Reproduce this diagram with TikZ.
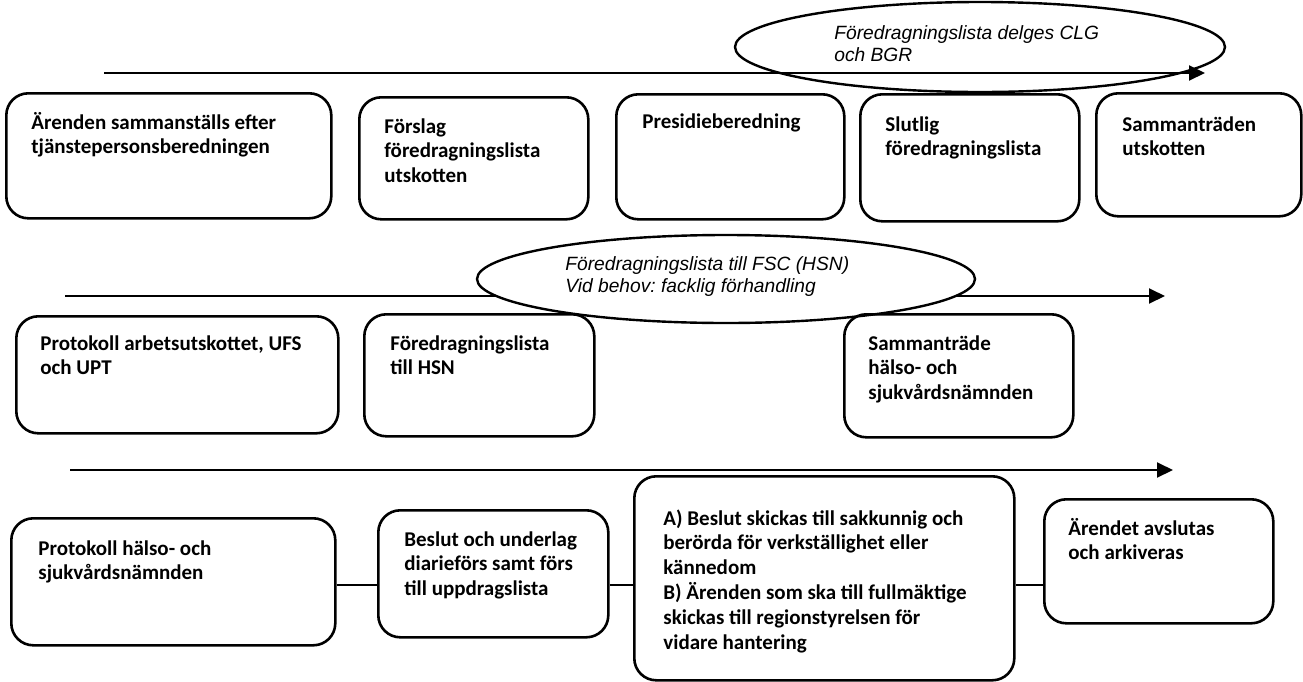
\documentclass[tikz,border=0pt]{standalone}
\usepackage{fontspec}
\setmainfont{Carlito}
\newfontfamily\notefont{Liberation Sans}
\usetikzlibrary{positioning,arrows.meta}
\usetikzlibrary{shapes.geometric}
\usetikzlibrary{calc}
\frenchspacing
\tikzset{
  fl_box/.style = {draw=black, line width=1.3pt, rounded corners=11pt,
    anchor=north west, inner sep=0pt},
  fl_txt/.style = {anchor=base west, align=left, inner sep=0pt,
    font=\fontsize{10.5}{12.4}\selectfont\bfseries},% text in a box, base = last line
  fl_oval/.style = {ellipse, draw=black, line width=1.2pt, inner sep=0pt},
  fl_note/.style = {anchor=base west, align=left, inner sep=0pt,
    font=\notefont\itshape\fontsize{9.6}{11}\selectfont},% text in an oval
  fl_line/.style = {->, line width=1pt},
  fl_link/.style = {line width=0.8pt}
}

\begin{document}
\begin{tikzpicture}[x=0.5pt,y=-0.5pt,>={Triangle[length=8pt,width=7.5pt]}]
\useasboundingbox (0,0) rectangle (1303,681);
%
% first row: utskotten
\coordinate (U0) at (104,73);
\coordinate (U1) at (1205,73);
\draw[fl_line] (U0) -- (U1);
\node (Uov) [fl_oval, minimum width=245pt, minimum height=45pt] at (980,47) {};
\node (Uovt) [fl_note] at ($(Uov.center)+(-146,14)$)
  {Föredragningslista delges CLG\\och BGR};
%
\node (A1) [fl_box, minimum width=162.5pt, minimum height=62.5pt] at (5,92) {};
\node (A2) [fl_box, minimum width=114.5pt, minimum height=61pt] at (358,96) {};
\node (A3) [fl_box, minimum width=114pt, minimum height=62.5pt] at (615,93) {};
\node (A4) [fl_box, minimum width=109.5pt, minimum height=63.5pt] at (859,93) {};
\node (A5) [fl_box, minimum width=102.5pt, minimum height=61.5pt] at (1095,92) {};
\node (A1t) [fl_txt] at ($(A1.north west)+(26,{37+24.8})$)
  {Ärenden sammanställs efter\\tjänstepersonsberedningen};
\node (A2t) [fl_txt] at ($(A2.north west)+(26,{37+2*24.8})$)
  {Förslag\\föredragningslista\\utskotten};
\node (A3t) [fl_txt] at ($(A3.north west)+(27,35)$) {Presidieberedning};
\node (A4t) [fl_txt] at ($(A4.north west)+(26,{38+24.8})$)
  {Slutlig\\föredragningslista};
\node (A5t) [fl_txt] at ($(A5.north west)+(27,{39+24.8})$)
  {Sammanträden\\utskotten};
%
% second row: nämnden
\coordinate (N0) at (65,296);
\coordinate (N1) at (1165,296);
\draw[fl_line] (N0) -- (N1);
\node (Nov) [fl_oval, fill=white, minimum width=249pt, minimum height=44pt] at (726,279) {};
\node (Novt) [fl_note] at ($(Nov.center)+(-161,13)$)
  {Föredragningslista till FSC (HSN)\\Vid behov: facklig förhandling};
%
\node (C1) [fl_box, minimum width=161pt, minimum height=58.5pt] at (15,315) {};
\node (C2) [fl_box, minimum width=115pt, minimum height=61pt] at (363,313) {};
\node (C3) [fl_box, minimum width=114.5pt, minimum height=61.5pt] at (843,313) {};
\node (C1t) [fl_txt] at ($(C1.north west)+(25,{35+24.8})$)
  {Protokoll arbetsutskottet, UFS\\och UPT};
\node (C2t) [fl_txt] at ($(C2.north west)+(27,{37+24.8})$)
  {Föredragningslista\\till HSN};
\node (C3t) [fl_txt] at ($(C3.north west)+(25,{37+2*24.8})$)
  {Sammanträde\\hälso- och\\sjukvårdsnämnden};
%
% third row: efter sammanträdet
\coordinate (E0) at (70,470);
\coordinate (E1) at (1173,470);
\draw[fl_line] (E0) -- (E1);
%
\node (B1) [fl_box, minimum width=162pt, minimum height=63.5pt] at (10,517) {};
\node (B2) [fl_box, minimum width=115pt, minimum height=63.5pt] at (377,509) {};
\node (B3) [fl_box, minimum width=190pt, minimum height=102pt] at (633,475) {};
\node (B4) [fl_box, minimum width=114.5pt, minimum height=62pt] at (1043,498) {};
\node (B1t) [fl_txt] at ($(B1.north west)+(28,{38+24.8})$)
  {Protokoll hälso- och\\sjukvårdsnämnden};
\node (B2t) [fl_txt] at ($(B2.north west)+(27,{37+2*24.8})$)
  {Beslut och underlag\\diarieförs samt förs\\till uppdragslista};
\node (B3t) [fl_txt] at ($(B3.north west)+(30,{51+5*24.6})$)
  {A) Beslut skickas till sakkunnig och\\berörda för verkställighet eller\\kännedom\\
   B) Ärenden som ska till fullmäktige\\skickas till regionstyrelsen för\\vidare hantering};
\node (B4t) [fl_txt] at ($(B4.north west)+(25,{37+24.8})$)
  {Ärendet avslutas\\och arkiveras};
%
\coordinate (lvl) at (0,585);
\draw[fl_link] (B1.east |- lvl) -- (B2.west |- lvl);
\draw[fl_link] (B2.east |- lvl) -- (B3.west |- lvl);
\draw[fl_link] (B3.east |- lvl) -- (B4.west |- lvl);
\end{tikzpicture}
\end{document}
